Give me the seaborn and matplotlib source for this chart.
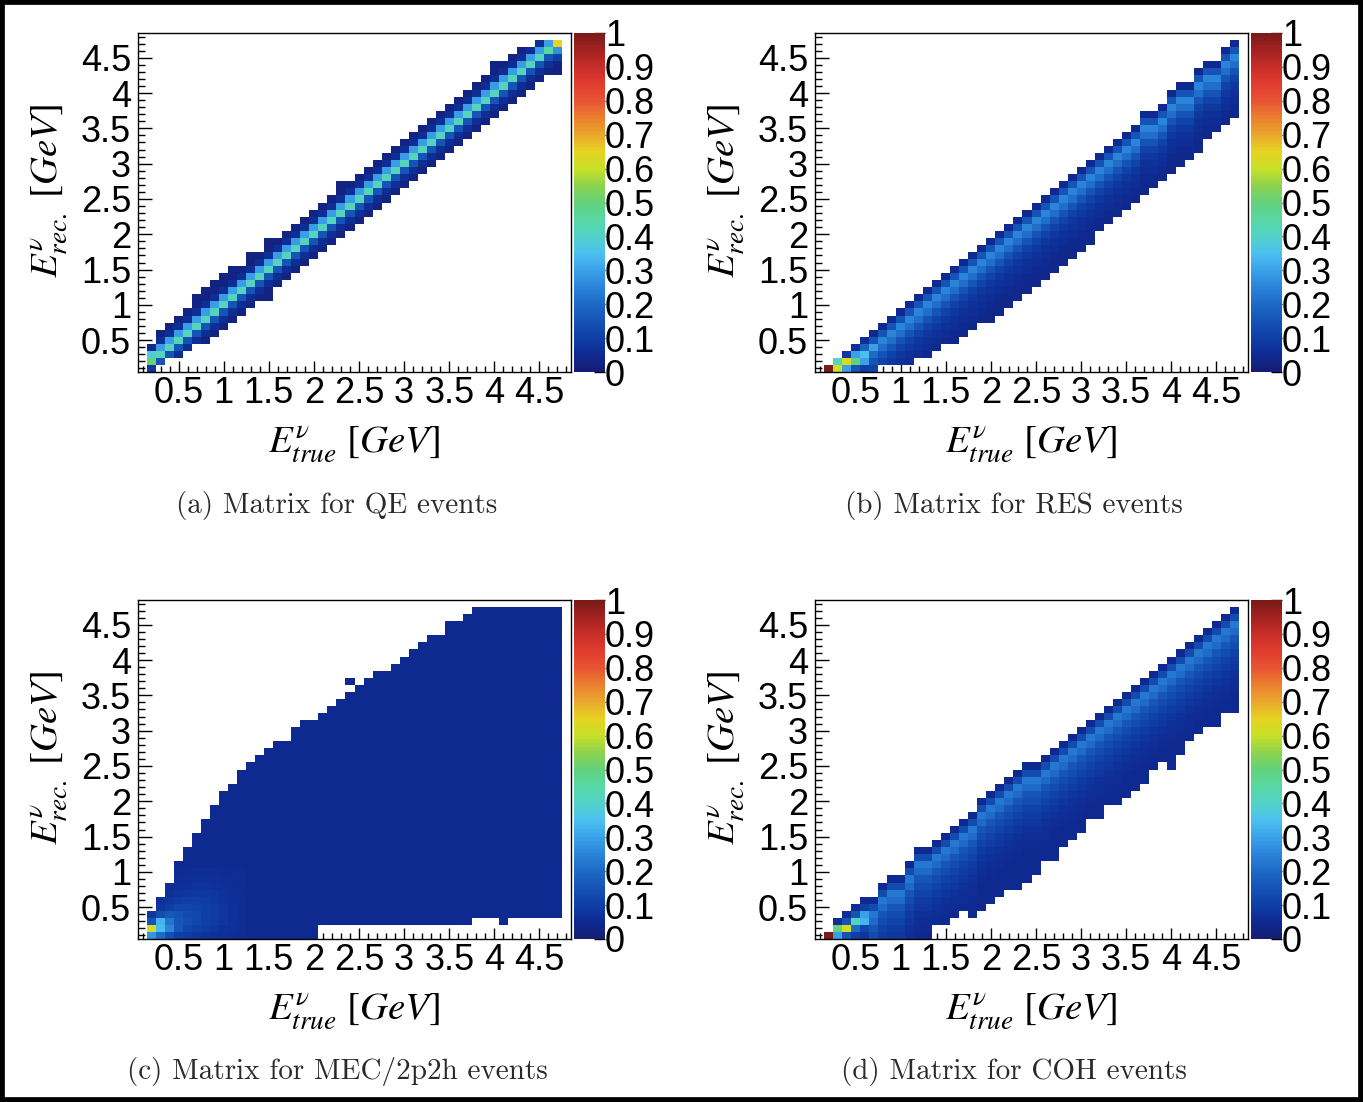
import numpy as np
import pandas as pd
import matplotlib
matplotlib.use("Agg")
import matplotlib.pyplot as plt
from matplotlib.colors import LinearSegmentedColormap
from matplotlib.ticker import MultipleLocator, FixedLocator, FuncFormatter
from matplotlib.patches import Rectangle
import seaborn as sns

# ---------------------------------------------------------------- data
# bin centres (GeV): true energy columns and reconstructed energy rows
e_true = [round(0.2 + 0.1 * i, 1) for i in range(46)]
e_rec = [round(0.1 + 0.1 * j, 1) for j in range(47)]
bin_edges = [round(0.05 + 0.1 * k, 2) for k in range(49)]

tick_values = [0.5, 1, 1.5, 2, 2.5, 3, 3.5, 4, 4.5]
cbar_ticks = [0, 0.1, 0.2, 0.3, 0.4, 0.5, 0.6, 0.7, 0.8, 0.9, 1]

captions = ["(a) Matrix for QE events", "(b) Matrix for RES events",
            "(c) Matrix for MEC/2p2h events", "(d) Matrix for COH events"]

# --- QE: highest / lowest filled rec. bin per true bin, ridge row, profile
qe_top = [0.4, 0.6, 0.7, 0.8, 0.9, 1.1, 1.2, 1.3, 1.4, 1.5, 1.5, 1.7, 1.7, 1.9, 1.9, 2.0,
          2.1, 2.2, 2.3, 2.4, 2.5, 2.7, 2.7, 2.8, 2.9, 3.0, 3.1, 3.2, 3.3, 3.4, 3.5, 3.6,
          3.7, 3.8, 3.9, 4.0, 4.1, 4.2, 4.4, 4.4, 4.5, 4.6, 4.6, 4.7, 4.7, 4.7]
qe_bottom = [0.1, 0.2, 0.3, 0.3, 0.4, 0.5, 0.5, 0.6, 0.7, 0.8, 0.9, 1.0, 1.1, 1.1, 1.3, 1.4,
             1.5, 1.6, 1.7, 1.8, 1.9, 2.0, 2.1, 2.2, 2.3, 2.4, 2.5, 2.6, 2.7, 2.8, 2.9, 3.0,
             3.1, 3.2, 3.3, 3.4, 3.5, 3.6, 3.7, 3.8, 3.9, 4.0, 4.1, 4.2, 4.3, 4.3]
qe_ridge = list(e_true)
qe_peak = 0.42
qe_above = [0.29, 0.06]
qe_below = [0.15, 0.06]
qe_floor = 0.025
qe_cells = {(0.2, 0.1): 0.08, (0.2, 0.2): 0.5, (0.2, 0.3): 0.38, (0.2, 0.4): 0.05,
            (4.6, 4.7): 0.3, (4.6, 4.6): 0.45, (4.7, 4.7): 0.65, (4.7, 4.6): 0.27,
            (4.7, 4.5): 0.1}

# --- RES
res_top = [0.1, 0.2, 0.3, 0.4, 0.5, 0.6, 0.7, 0.8, 0.9, 1.0, 1.1, 1.2, 1.3, 1.4, 1.5, 1.6,
           1.7, 1.8, 1.9, 2.0, 2.1, 2.2, 2.3, 2.4, 2.5, 2.6, 2.7, 2.8, 2.9, 3.0, 3.1, 3.2,
           3.3, 3.4, 3.5, 3.7, 3.7, 3.8, 4.0, 4.1, 4.1, 4.3, 4.4, 4.4, 4.6, 4.7]
res_bottom = [0.1, 0.1, 0.1, 0.1, 0.1, 0.1, 0.2, 0.2, 0.2, 0.2, 0.3, 0.3, 0.4, 0.5, 0.5, 0.6,
              0.7, 0.8, 0.8, 0.9, 1.0, 1.1, 1.2, 1.3, 1.4, 1.5, 1.6, 1.7, 1.8, 1.9, 2.1, 2.2,
              2.3, 2.4, 2.5, 2.6, 2.7, 2.8, 2.9, 3.0, 3.1, 3.2, 3.4, 3.5, 3.6, 3.7]
res_ridge = [0.1, 0.2, 0.2, 0.3, 0.3, 0.4, 0.5, 0.6, 0.7, 0.8, 0.9, 1.0, 1.1, 1.2, 1.3, 1.4,
             1.5, 1.6, 1.7, 1.8, 1.9, 2.0, 2.1, 2.2, 2.3, 2.4, 2.5, 2.6, 2.7, 2.8, 2.9, 3.0,
             3.1, 3.2, 3.3, 3.5, 3.5, 3.6, 3.8, 3.9, 3.9, 4.1, 4.2, 4.2, 4.4, 4.5]
res_peak = 0.25
res_above = [0.15, 0.05]
res_below = [0.21, 0.15, 0.11, 0.085, 0.07, 0.06, 0.05]
res_floor = 0.04
res_cells = {(0.2, 0.1): 1.0, (0.3, 0.1): 0.6, (0.3, 0.2): 0.42,
             (0.4, 0.1): 0.3, (0.4, 0.2): 0.62, (0.4, 0.3): 0.08,
             (0.5, 0.1): 0.15, (0.5, 0.2): 0.5, (0.5, 0.3): 0.3, (0.5, 0.4): 0.07,
             (0.6, 0.1): 0.1, (0.6, 0.2): 0.3, (0.6, 0.3): 0.35, (0.6, 0.4): 0.18,
             (0.6, 0.5): 0.06, (0.7, 0.3): 0.2, (0.7, 0.4): 0.3}

# --- MEC / 2p2h
mec_top = [0.4, 0.6, 0.8, 1.1, 1.3, 1.5, 1.7, 1.9, 2.1, 2.2, 2.4, 2.5, 2.6, 2.7, 2.8, 2.8,
           3.0, 3.1, 3.1, 3.2, 3.3, 3.4, 3.5, 3.6, 3.7, 3.8, 3.8, 3.9, 4.0, 4.1, 4.2, 4.3,
           4.3, 4.5, 4.5, 4.6, 4.7, 4.7, 4.7, 4.7, 4.7, 4.7, 4.7, 4.7, 4.7, 4.7]
mec_bottom = [0.1, 0.1, 0.1, 0.1, 0.1, 0.1, 0.1, 0.1, 0.1, 0.1, 0.1, 0.1, 0.1, 0.1, 0.1, 0.1,
              0.1, 0.1, 0.1, 0.3, 0.3, 0.3, 0.3, 0.3, 0.3, 0.3, 0.3, 0.3, 0.3, 0.3, 0.3, 0.3,
              0.3, 0.3, 0.3, 0.3, 0.4, 0.4, 0.4, 0.3, 0.4, 0.4, 0.4, 0.4, 0.4, 0.4]
mec_floor = 0.05
mec_glow_x = [0.2, 0.3, 0.4, 0.5, 0.6, 0.7, 0.8, 0.9, 1.0, 1.1, 1.2]
mec_glow_y = [0.1, 0.2, 0.3, 0.4, 0.5, 0.6, 0.7, 0.8, 0.9, 1.0]
mec_glow = [[0.28, 0.20, 0.14, 0.10, 0.09, 0.08, 0.075, 0.07, 0.065, 0.06, 0.055],
            [0.62, 0.34, 0.25, 0.16, 0.12, 0.10, 0.09, 0.08, 0.07, 0.065, 0.06],
            [0.15, 0.33, 0.22, 0.16, 0.14, 0.12, 0.10, 0.09, 0.08, 0.07, 0.06],
            [0.08, 0.13, 0.16, 0.15, 0.13, 0.12, 0.10, 0.09, 0.08, 0.07, 0.06],
            [0.06, 0.08, 0.10, 0.12, 0.12, 0.11, 0.10, 0.09, 0.08, 0.07, 0.06],
            [0.06, 0.07, 0.08, 0.09, 0.10, 0.10, 0.09, 0.085, 0.075, 0.065, 0.06],
            [0.06, 0.06, 0.07, 0.075, 0.08, 0.085, 0.085, 0.08, 0.07, 0.065, 0.06],
            [0.06, 0.06, 0.06, 0.065, 0.07, 0.075, 0.075, 0.07, 0.065, 0.06, 0.055],
            [0.055, 0.055, 0.055, 0.06, 0.065, 0.065, 0.065, 0.065, 0.06, 0.06, 0.055],
            [0.05, 0.05, 0.05, 0.055, 0.055, 0.06, 0.06, 0.06, 0.055, 0.055, 0.055]]
mec_holes = [(2.4, 3.6)]
mec_extra = {(2.4, 3.7): 0.05}

# --- COH
coh_top = [0.1, 0.3, 0.4, 0.5, 0.6, 0.6, 0.8, 0.9, 0.9, 1.1, 1.3, 1.3, 1.4, 1.5, 1.6, 1.7,
           1.8, 2.0, 2.1, 2.2, 2.3, 2.4, 2.5, 2.5, 2.6, 2.7, 2.8, 2.9, 3.0, 3.1, 3.2, 3.3,
           3.4, 3.5, 3.6, 3.7, 3.8, 3.9, 4.0, 4.1, 4.2, 4.3, 4.4, 4.5, 4.6, 4.7]
coh_bottom = [0.1, 0.1, 0.1, 0.1, 0.1, 0.1, 0.1, 0.1, 0.1, 0.1, 0.1, 0.1, 0.3, 0.3, 0.4, 0.5,
              0.4, 0.5, 0.6, 0.7, 0.8, 0.8, 0.9, 1.0, 1.2, 1.2, 1.4, 1.5, 1.6, 1.8, 1.8, 2.0,
              2.0, 2.1, 2.2, 2.3, 2.5, 2.6, 2.5, 2.7, 2.9, 3.0, 3.1, 3.1, 3.3, 3.3]
coh_ridge = [0.1, 0.2, 0.2, 0.3, 0.4, 0.4, 0.6, 0.7, 0.7, 0.9, 1.1, 1.1, 1.2, 1.3, 1.4, 1.5,
             1.6, 1.8, 1.9, 2.0, 2.1, 2.2, 2.3, 2.3, 2.4, 2.5, 2.6, 2.7, 2.8, 2.9, 3.0, 3.1,
             3.2, 3.3, 3.4, 3.5, 3.6, 3.7, 3.8, 3.9, 4.0, 4.1, 4.2, 4.3, 4.4, 4.5]
coh_peak = 0.23
coh_above = [0.13, 0.05]
coh_below = [0.2, 0.16, 0.13, 0.11, 0.09, 0.08, 0.07, 0.06, 0.055]
coh_floor = 0.05
coh_cells = {(0.2, 0.1): 1.0, (0.3, 0.1): 0.3, (0.3, 0.2): 0.5, (0.3, 0.3): 0.06,
             (0.4, 0.1): 0.15, (0.4, 0.2): 0.62, (0.4, 0.3): 0.15, (0.4, 0.4): 0.06,
             (0.5, 0.1): 0.1, (0.5, 0.2): 0.2, (0.5, 0.3): 0.42, (0.5, 0.4): 0.15,
             (0.5, 0.5): 0.06, (0.6, 0.1): 0.08, (0.6, 0.2): 0.12, (0.6, 0.3): 0.33,
             (0.6, 0.4): 0.3, (0.6, 0.5): 0.1, (0.6, 0.6): 0.05}

# colour palette (ROOT rainbow-like)
cmap_levels = [0.0, 0.05, 0.10, 0.15, 0.20, 0.25, 0.30, 0.35, 0.40, 0.45, 0.50,
               0.55, 0.60, 0.65, 0.70, 0.75, 0.80, 0.85, 0.90, 0.95, 1.0]
cmap_colors = ["#161c72", "#0e2a92", "#0f3fa6", "#1553b6", "#1e6ac6", "#2a84d8",
               "#3ba2ea", "#4cc0f0", "#52d2c8", "#58d8a4", "#62d27c", "#8ed24e",
               "#c8e028", "#e6d422", "#eaa82c", "#ea8030", "#e85432", "#e23c30",
               "#c82e28", "#a42220", "#7a1a18"]


# ---------------------------------------------------------------- helpers
def key(a, b):
    return (round(a, 1), round(b, 1))


def band_frame(top, bottom, ridge, peak, above, below, floor, cells):
    xs, ys, ws = [], [], []
    for i, x in enumerate(e_true):
        for y in e_rec:
            if bottom[i] - 1e-6 <= y <= top[i] + 1e-6:
                d = int(round((y - ridge[i]) * 10))
                if d == 0:
                    v = peak
                elif d > 0:
                    v = above[d - 1] if d - 1 < len(above) else floor
                else:
                    v = below[-d - 1] if -d - 1 < len(below) else floor
                v = cells.get(key(x, y), v)
                xs.append(x); ys.append(y); ws.append(v)
    return pd.DataFrame({"x": xs, "y": ys, "w": ws})


def mec_frame():
    xs, ys, ws = [], [], []
    glow = {}
    for r, gy in enumerate(mec_glow_y):
        for c, gx in enumerate(mec_glow_x):
            glow[key(gx, gy)] = mec_glow[r][c]
    holes = {key(*h) for h in mec_holes}
    for i, x in enumerate(e_true):
        for y in e_rec:
            if mec_bottom[i] - 1e-6 <= y <= mec_top[i] + 1e-6 and key(x, y) not in holes:
                xs.append(x); ys.append(y); ws.append(glow.get(key(x, y), mec_floor))
    for (x, y), v in mec_extra.items():
        xs.append(x); ys.append(y); ws.append(v)
    return pd.DataFrame({"x": xs, "y": ys, "w": ws})


frames = [
    band_frame(qe_top, qe_bottom, qe_ridge, qe_peak, qe_above, qe_below, qe_floor, qe_cells),
    band_frame(res_top, res_bottom, res_ridge, res_peak, res_above, res_below, res_floor, res_cells),
    mec_frame(),
    band_frame(coh_top, coh_bottom, coh_ridge, coh_peak, coh_above, coh_below, coh_floor, coh_cells),
]

# ---------------------------------------------------------------- style
sns.set_theme(style="white")
plt.rcParams["font.family"] = ["Liberation Sans", "DejaVu Sans"]
plt.rcParams["mathtext.fontset"] = "stix"
plt.rcParams["axes.edgecolor"] = "black"
plt.rcParams["axes.linewidth"] = 1.0

cmap = LinearSegmentedColormap.from_list("rootrainbow", list(zip(cmap_levels, cmap_colors)), N=256)

W, H = 1363, 1102
fig = plt.figure(figsize=(W / 100, H / 100), dpi=100)
fig.patch.set_facecolor("white")


def fx(px):
    return px / W


def fy(py):
    return 1 - py / H


# panel geometry in pixels: (left, top) of plotting frame
origins = [(138, 33), (815, 33), (138, 600), (815, 600)]
AX_W, AX_H = 433, 339
CB_GAP, CB_W = 3, 31

fmt = FuncFormatter(lambda v, p: f"{v:g}")

for n, (left, top) in enumerate(origins):
    ax = fig.add_axes([fx(left), fy(top + AX_H), AX_W / W, AX_H / H])
    cax = fig.add_axes([fx(left + AX_W + CB_GAP), fy(top + AX_H), CB_W / W, AX_H / H])
    sns.histplot(data=frames[n], x="x", y="y", weights="w",
                 bins=[bin_edges, bin_edges], cmap=cmap, vmin=0, vmax=1,
                 cbar=True, cbar_ax=cax, ax=ax, linewidth=0, antialiased=False)
    ax.set_xlim(0.05, 4.85)
    ax.set_ylim(0.05, 4.85)
    ax.set_xlabel("")
    ax.set_ylabel("")
    ax.xaxis.set_major_locator(FixedLocator(tick_values))
    ax.yaxis.set_major_locator(FixedLocator(tick_values))
    ax.xaxis.set_minor_locator(MultipleLocator(0.1))
    ax.yaxis.set_minor_locator(MultipleLocator(0.1))
    ax.xaxis.set_major_formatter(fmt)
    ax.yaxis.set_major_formatter(fmt)
    ax.tick_params(axis="both", which="both", direction="in", top=False, right=False,
                   bottom=True, left=True, colors="black", width=1.0, labelsize=26)
    ax.tick_params(axis="x", which="major", length=8, pad=3)
    ax.tick_params(axis="x", which="minor", length=4.5)
    ax.tick_params(axis="y", which="major", length=10, pad=5)
    ax.tick_params(axis="y", which="minor", length=5)
    for s in ax.spines.values():
        s.set_color("black")
        s.set_linewidth(1.0)
    ax.set_facecolor("white")

    cax.yaxis.set_ticks_position("right")
    cax.yaxis.set_major_locator(FixedLocator(cbar_ticks))
    cax.yaxis.set_major_formatter(fmt)
    cax.tick_params(axis="y", which="both", direction="in", length=8, width=1.0,
                    colors="black", labelsize=26, pad=0)
    cax.minorticks_off()
    for s in cax.spines.values():
        s.set_visible(False)
    for child in cax.get_children():
        if child.__class__.__name__ == "Spine":
            child.set_visible(False)

    cx = left + AX_W / 2
    fig.text(fx(cx), fy(top + 412), r"$E^{\nu}_{true}\ [GeV]$", ha="center", va="center",
             fontsize=28, color="black")
    fig.text(fx(left - 88), fy(top + 158), r"$E^{\nu}_{rec.}\ [GeV]$", ha="center", va="center",
             rotation=90, fontsize=28, color="black")
    fig.text(fx(left + 199), fy(top + 472), captions[n], ha="center", va="center",
             fontsize=21, family="cmr10", color="#2a2a2a")

# black frame around the whole picture
fig.patches.append(Rectangle((0, 0), 1, 1, transform=fig.transFigure, fill=False,
                             edgecolor="black", linewidth=7, zorder=10))

fig.savefig("out.png", dpi=100, facecolor="white")
